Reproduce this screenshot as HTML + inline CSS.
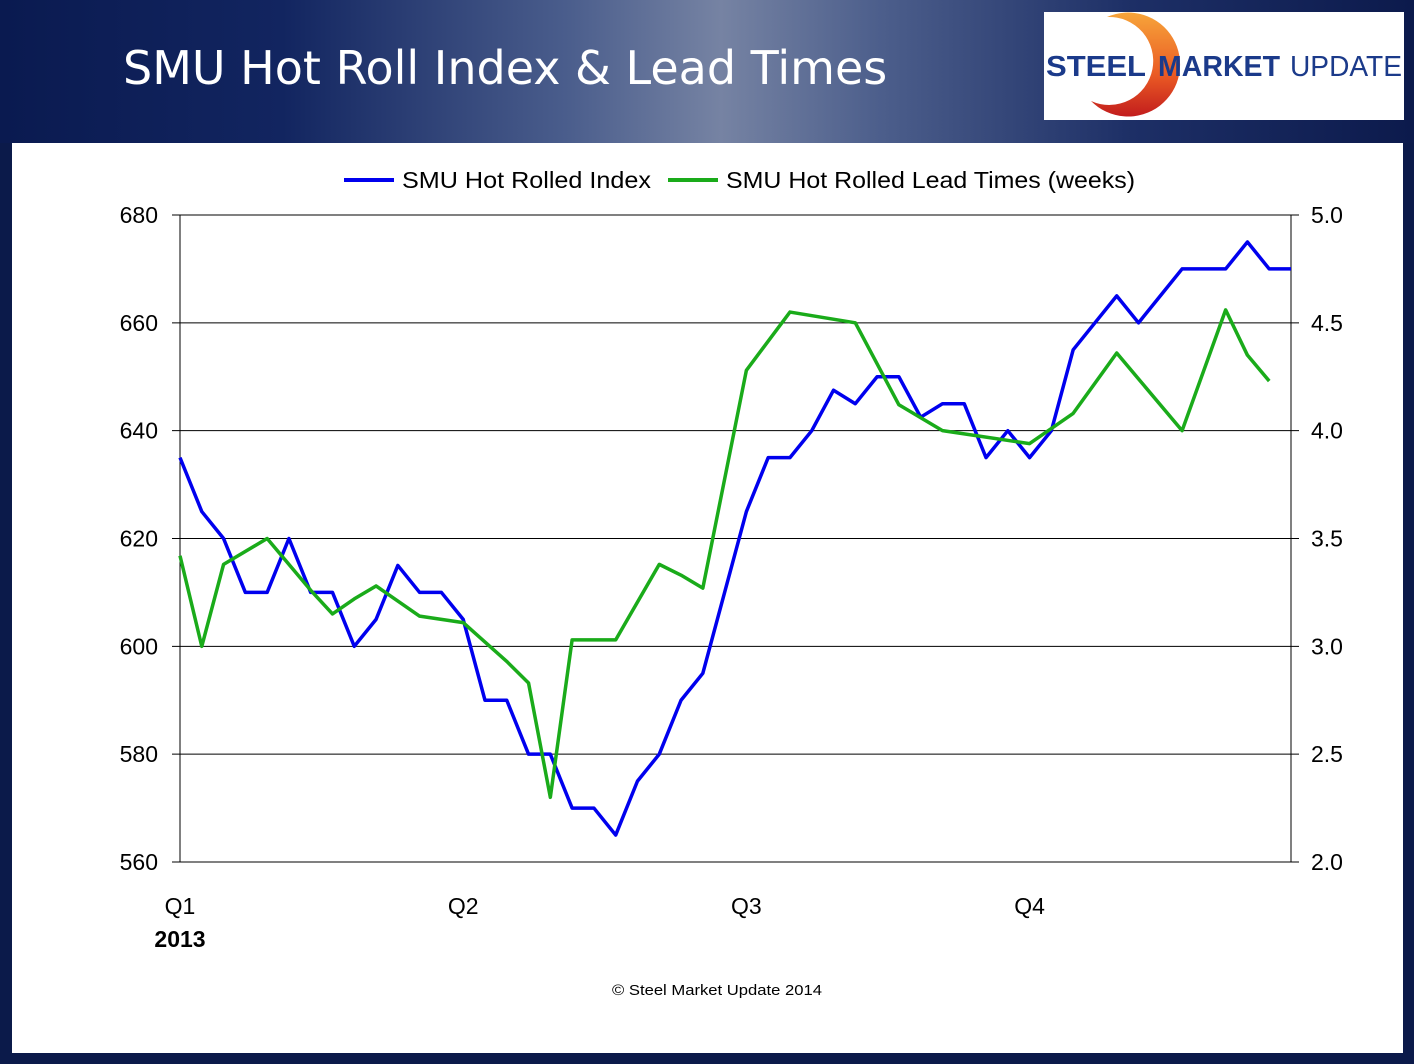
<!DOCTYPE html>
<html><head><meta charset="utf-8">
<style>
body{margin:0;width:1414px;height:1064px;overflow:hidden;background:#0b1a4a;font-family:"Liberation Sans","DejaVu Sans",sans-serif;}
#hdr{position:absolute;left:0;top:0;width:1414px;height:143px;background:linear-gradient(90deg,#0a1a50 0%,#122560 20%,#4a5d8c 40%,#7683a3 51%,#4d5f8c 62%,#1d2f66 80%,#0c1a4c 100%);}
#title{position:absolute;left:123px;top:41px;color:#fff;font-family:"DejaVu Sans","Liberation Sans",sans-serif;font-size:46px;}
#logo{position:absolute;left:1044px;top:12px;width:360px;height:108px;background:#fff;}
#panel{position:absolute;left:12px;top:143px;width:1391px;height:910px;background:#fff;}
</style></head><body>
<div id="hdr"></div>
<div id="title">SMU Hot Roll Index &amp; Lead Times</div>
<div id="logo">
<svg width="360" height="108">
<defs><linearGradient id="lg" x1="0" y1="0" x2="0" y2="1"><stop offset="0" stop-color="#f7a53a"/><stop offset="0.6" stop-color="#ea5a24"/><stop offset="1" stop-color="#c21d1d"/></linearGradient></defs>
<path d="M60,12 A52,52 0 1 1 44,96 A44,44 0 1 0 60,12 Z" fill="url(#lg)" transform="translate(3,-7)"/>
<text x="2" y="64" font-family="Liberation Sans, sans-serif" font-weight="bold" font-size="29" fill="#1b3a8a" textLength="100" lengthAdjust="spacingAndGlyphs">STEEL</text>
<text x="114" y="64" font-family="Liberation Sans, sans-serif" font-weight="bold" font-size="29" fill="#1b3a8a" textLength="122" lengthAdjust="spacingAndGlyphs">MARKET</text>
<text x="246" y="64" font-family="Liberation Sans, sans-serif" font-size="29" fill="#1b3a8a" textLength="112" lengthAdjust="spacingAndGlyphs">UPDATE</text>
</svg></div>
<div id="panel"></div>
<svg id="chart" width="1414" height="1064" style="position:absolute;left:0;top:0"></svg>
<script>
const blueVals=[635,625,620,610,610,620,610,610,600,605,615,610,610,605,590,590,580,580,570,570,565,575,580,590,595,610,625,635,635,640,647.5,645,650,650,642.5,645,645,635,640,635,640,655,660,665,660,665,670,670,670,675,670,670];
const greenWeeks=[0,1,2,4,6,7,8,9,11,13,15,16,17,18,20,22,23,24,26,28,31,33,35,39,41,43,46,48,49,50];
const greenVals=[3.42,3.0,3.38,3.5,3.26,3.15,3.22,3.28,3.14,3.11,2.93,2.83,2.30,3.03,3.03,3.38,3.33,3.27,4.28,4.55,4.5,4.12,4.0,3.94,4.08,4.36,4.0,4.56,4.35,4.23];
const leftTicks=[560,580,600,620,640,660,680];
const rightTicks=["2.0","2.5","3.0","3.5","4.0","4.5","5.0"];
const quarterLabels=["Q1","Q2","Q3","Q4"];
const quarterWeeks=[0,13,26,39];

const svg=document.getElementById('chart');const NS='http://www.w3.org/2000/svg';
const X0=180,X1=1291,Y0=862,Y1=215;
const xs=w=>X0+w*(X1-X0)/51;
const yL=v=>Y0-(v-560)/120*(Y0-Y1);
const yR=v=>Y0-(v-2)/3*(Y0-Y1);
function mk(t,a,txt){const e=document.createElementNS(NS,t);for(const k in a)e.setAttribute(k,a[k]);if(txt!==undefined)e.textContent=txt;svg.appendChild(e);return e;}
leftTicks.forEach((v,i)=>{
 const g=mk('line',{x1:X0-8,x2:X1+8,y1:yL(v),y2:yL(v),stroke:'#000','stroke-width':1});
 
 
 const t=mk('text',{x:158,y:yL(v)+8,'text-anchor':'end','font-size':23,fill:'#000'},v);
 
 
 const r=mk('text',{x:1311,y:yR(+rightTicks[i])+8,'font-size':23,fill:'#000'},rightTicks[i]);
 
 
});
const ax1=mk('line',{x1:X0,x2:X0,y1:Y1,y2:Y0,stroke:'#000'});


const ax2=mk('line',{x1:X1,x2:X1,y1:Y1,y2:Y0,stroke:'#000'});


quarterLabels.forEach((q,i)=>{
 const t=mk('text',{x:xs(quarterWeeks[i]),y:914,'text-anchor':'middle','font-size':23,fill:'#000'},q);
 
 
});
const yr=mk('text',{x:180,y:947,'text-anchor':'middle','font-size':23,'font-weight':'bold',fill:'#000'},'2013');


const bp=mk('polyline',{points:blueVals.map((v,i)=>xs(i)+','+yL(v)).join(' '),fill:'none',stroke:'#0000ee','stroke-width':3.5,'stroke-linejoin':'round'});


const gp=mk('polyline',{points:greenVals.map((v,i)=>xs(greenWeeks[i])+','+yR(v)).join(' '),fill:'none',stroke:'#1aab1a','stroke-width':3.5,'stroke-linejoin':'round'});


const l1=mk('line',{x1:344,x2:394,y1:180,y2:180,stroke:'#0000ee','stroke-width':4});


const t1=mk('text',{x:402,y:188,'font-size':23,fill:'#000',textLength:249,lengthAdjust:'spacingAndGlyphs'},'SMU Hot Rolled Index');


const l2=mk('line',{x1:668,x2:718,y1:180,y2:180,stroke:'#1aab1a','stroke-width':4});


const t2=mk('text',{x:726,y:188,'font-size':23,fill:'#000',textLength:409,lengthAdjust:'spacingAndGlyphs'},'SMU Hot Rolled Lead Times (weeks)');


const c=mk('text',{x:612,y:995,'font-size':15,fill:'#000',textLength:210,lengthAdjust:'spacingAndGlyphs'},'© Steel Market Update 2014');


</script>
</body></html>
